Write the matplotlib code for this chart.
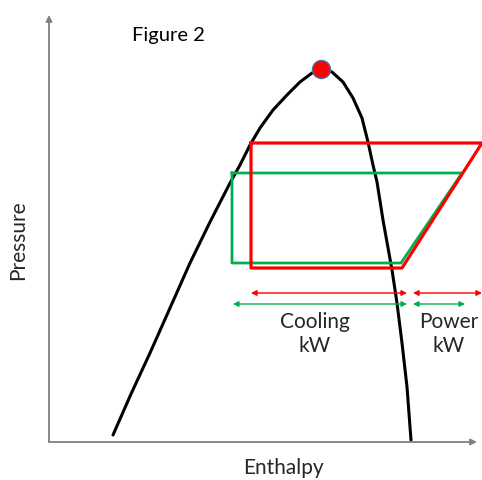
import numpy as np
import matplotlib.pyplot as plt

# saturation dome (enthalpy, pressure) in arbitrary units
dome_h = [64, 82, 101, 121, 141, 161, 181, 191, 201, 211, 224, 238, 251, 263, 272,
          283, 294, 304, 313, 319, 324, 328, 334, 343, 348, 353, 358, 362]
dome_p = [7, 48, 89, 134, 179, 220, 259, 277, 297, 314, 332, 347, 360, 369, 373,
          370, 360, 344, 324, 300, 277, 260, 222, 172, 139, 99, 55, 2]
crit_h, crit_p = 272, 373

# refrigeration cycles: [top-left, top-right, bottom-right, bottom-left]
red_h = [202, 433, 353, 202]
red_p = [299, 299, 174, 174]
green_h = [183, 413, 352, 183]
green_p = [269, 269, 179, 179]

# capacity / power arrows (start, end, level)
red_cool = (202, 358, 149)
red_pow = (364, 433, 149)
green_cool = (184, 358, 138)
green_pow = (364, 416, 138)

RED = '#FF0000'
GREEN = '#00B050'
TXT = '#262626'

plt.rcParams['font.family'] = ['Lato', 'DejaVu Sans']

fig = plt.figure(figsize=(4.82, 4.80), dpi=100)
W, H = 482, 480
# axes from axis origin (49, 442 px) to the right/top edge
ax = fig.add_axes([49 / W, (H - 442) / H, (W - 49) / W, (442 - 15) / H])
ax.set_xlim(0, 433)
ax.set_ylim(0, 427)
ax.axis('off')

# axes with arrows
for tip in [(0, 427), (428, 0)]:
    ax.annotate('', xy=tip, xytext=(0, 0),
                arrowprops=dict(arrowstyle='-|>', color='#7f7f7f', lw=1.3, mutation_scale=9,
                                shrinkA=0, shrinkB=0), annotation_clip=False)

ax.plot(dome_h, dome_p, color='black', lw=2.2, solid_capstyle='round',
        solid_joinstyle='round', clip_on=False)

ax.plot(green_h + green_h[:1], green_p + green_p[:1], color=GREEN, lw=2, clip_on=False)
ax.plot(red_h + red_h[:1], red_p + red_p[:1], color=RED, lw=2.3, clip_on=False)

ax.plot(crit_h, crit_p, 'o', ms=13, mfc=RED, mec='#4a6fa5', mew=1, clip_on=False)

for (a, b, y), c in [(red_cool, RED), (red_pow, RED), (green_cool, GREEN), (green_pow, GREEN)]:
    ax.annotate('', xy=(b, y), xytext=(a, y),
                arrowprops=dict(arrowstyle='<|-|>', color=c, lw=1, mutation_scale=8,
                                shrinkA=0, shrinkB=0), annotation_clip=False)

fs = 15
ax.text(266, 108, 'Cooling\nkW', ha='center', va='center', fontsize=fs, color=TXT,
        linespacing=1.2)
ax.text(400, 108, 'Power\nkW', ha='center', va='center', fontsize=fs, color=TXT,
        linespacing=1.2)
ax.text(119, 407, 'Figure 2', ha='center', va='center', fontsize=fs - 0.5, color='black')
fig.text(283 / W, 1 - 468 / H, 'Enthalpy', ha='center', va='center', fontsize=fs, color=TXT)
fig.text(18 / W, 1 - 240 / H, 'Pressure', ha='center', va='center', fontsize=fs, color=TXT,
         rotation=90)

fig.savefig('out.png', dpi=100)
